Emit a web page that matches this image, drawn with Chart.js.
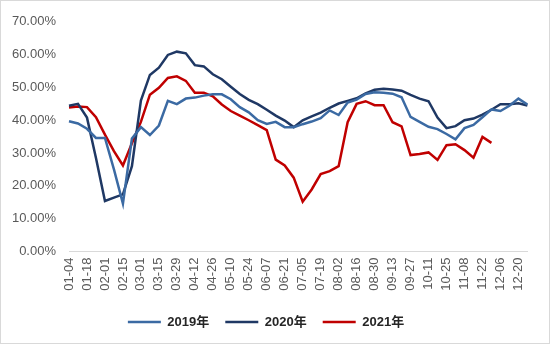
<!DOCTYPE html>
<html>
<head>
<meta charset="utf-8">
<script src="https://cdn.jsdelivr.net/npm/chart.js@4.4.1/dist/chart.umd.min.js"></script>
<style>
    html, body { margin: 0; padding: 0; background: #fff; }
    .wrap { width: 550px; height: 344px; box-sizing: border-box; border: 1px solid #d9d9d9; }
    canvas { display: block; }
</style>
</head>
<body>
<div class="wrap"><canvas id="rateChart" width="548" height="342"></canvas></div>
<script>
// Weekly dates (every other one is shown on the axis)
const weeks = ['01-04', '01-11', '01-18', '01-25', '02-01', '02-08', '02-15', '02-22',
    '03-01', '03-08', '03-15', '03-22', '03-29', '04-05', '04-12', '04-19', '04-26',
    '05-03', '05-10', '05-17', '05-24', '05-31', '06-07', '06-14', '06-21', '06-28',
    '07-05', '07-12', '07-19', '07-26', '08-02', '08-09', '08-16', '08-23', '08-30',
    '09-06', '09-13', '09-20', '09-27', '10-04', '10-11', '10-18', '10-25', '11-01',
    '11-08', '11-15', '11-22', '11-29', '12-06', '12-13', '12-20', '12-27'];

// Weekly rate, %
const rate2019 = [39.7, 39.0, 37.4, 34.6, 34.6, 25.0, 14.6, 34.4, 37.9, 35.5, 38.4, 45.9, 44.9,
    46.6, 46.9, 47.5, 47.9, 47.9, 46.4, 44.0, 42.4, 40.0, 38.9, 39.5, 37.9, 37.9, 38.8, 39.6,
    40.6, 43.0, 41.6, 45.4, 46.3, 48.0, 48.5, 48.4, 48.1, 47.0, 41.0, 39.5, 38.0, 37.3, 35.8,
    34.2, 37.6, 38.6, 40.9, 43.3, 42.8, 44.4, 46.6, 44.8];
const rate2020 = [44.4, 45.0, 40.8, 28.5, 15.4, 16.4, 17.4, 26.0, 46.0, 53.8, 56.0, 59.9, 60.9,
    60.4, 56.8, 56.4, 54.0, 52.5, 50.2, 48.0, 46.2, 44.9, 43.2, 41.4, 39.9, 37.9, 40.0, 41.2,
    42.3, 43.8, 45.1, 45.9, 46.7, 48.2, 49.3, 49.6, 49.4, 49.0, 47.7, 46.6, 45.8, 40.8, 37.6,
    38.2, 40.0, 40.5, 41.7, 43.2, 44.9, 44.9, 45.2, 44.5];
const rate2021 = [43.9, 44.2, 44.0, 40.9, 35.6, 30.6, 26.2, 33.0, 39.5, 47.8, 49.9, 52.9, 53.4,
    52.0, 48.4, 48.4, 47.3, 44.8, 42.8, 41.4, 40.0, 38.5, 37.0, 28.0, 26.2, 22.5, 15.2, 18.9,
    23.6, 24.5, 26.0, 39.4, 45.0, 45.8, 44.6, 44.6, 39.4, 38.1, 29.4, 29.7, 30.2, 27.9, 32.4,
    32.7, 30.9, 28.6, 34.9, 33.1];

const seriesNames = ['2019年', '2020年', '2021年'];
const seriesColors = ['#3b6aa3', '#1f3864', '#c00000'];

const fontFamily = "'Liberation Sans', 'Noto Sans CJK SC', sans-serif";

const makeSet = (label, data, color) => ({
    label: label,
    data: data,
    borderColor: color,
    backgroundColor: color,
    borderWidth: 2.5,
    pointRadius: 0,
    tension: 0,
    fill: false,
});

const ctx = document.getElementById('rateChart').getContext('2d');
new Chart(ctx, {
    type: 'line',
    data: {
        labels: weeks,
        datasets: [
            makeSet(seriesNames[0], rate2019, seriesColors[0]),
            makeSet(seriesNames[1], rate2020, seriesColors[1]),
            makeSet(seriesNames[2], rate2021, seriesColors[2]),
        ],
    },
    options: {
        responsive: false,
        animation: false,
        layout: {
            padding: { top: 17, right: 18, bottom: 4.5, left: 0 },
        },
        plugins: {
            tooltip: { enabled: false },
            legend: {
                position: 'bottom',
                labels: {
                    usePointStyle: true,
                    pointStyle: 'line',
                    pointStyleWidth: 33,
                    boxHeight: 13,
                    padding: 16,
                    color: '#262626',
                    font: { family: fontFamily, size: 13, weight: 'bold' },
                },
            },
        },
        scales: {
            x: {
                offset: false,
                grid: { display: false, drawTicks: false },
                border: { display: true, color: '#d9d9d9', width: 1 },
                ticks: {
                    autoSkip: false,
                    minRotation: 90,
                    maxRotation: 90,
                    padding: 6,
                    color: '#595959',
                    font: { family: fontFamily, size: 13 },
                    callback: function (value, index) {
                        return index % 2 === 0 ? weeks[index] : '';
                    },
                },
                afterFit: function (scale) {
                    scale.height = 48;
                },
            },
            y: {
                min: 0,
                max: 70,
                grid: { display: false, drawTicks: false },
                border: { display: false },
                ticks: {
                    stepSize: 10,
                    padding: 13,
                    color: '#595959',
                    font: { family: fontFamily, size: 13 },
                    callback: (v) => v.toFixed(2) + '%',
                },
                afterFit: function (scale) {
                    scale.width = 68;
                },
            },
        },
    },
});
</script>
</body>
</html>
